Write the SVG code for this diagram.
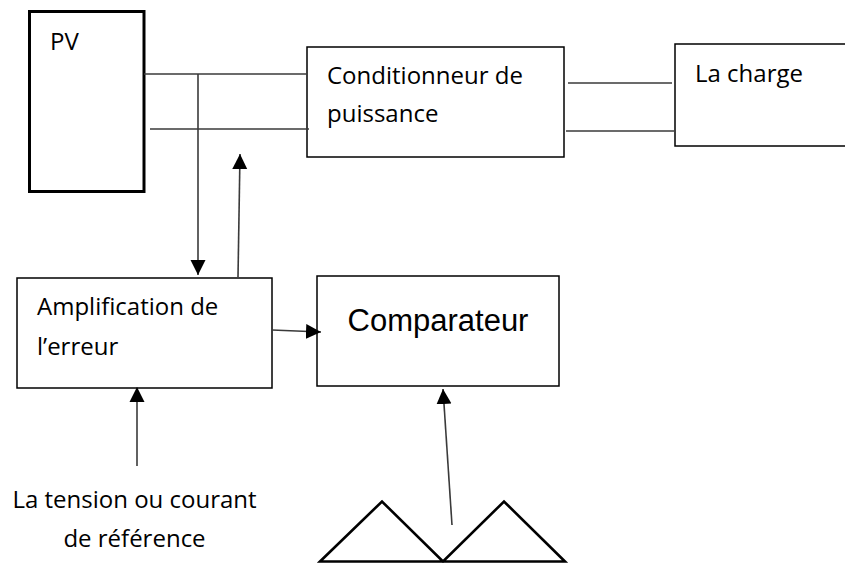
<svg xmlns="http://www.w3.org/2000/svg" width="845" height="563" viewBox="0 0 845 563">
  <style>
    .box { fill: #ffffff; stroke: #000000; stroke-width: 1.5; }
    .box-heavy { fill: #ffffff; stroke: #000000; stroke-width: 3; }
    .wire { fill: none; stroke: #3a3a3a; stroke-width: 1.6; }
    .lbl { font-family: "Open Sans", "Noto Sans", sans-serif; font-size: 24px; fill: #000000; }
    .lbl-big { font-family: "Liberation Sans", Arial, sans-serif; font-size: 31px; fill: #000000; }
    .wave { fill: none; stroke: #000000; stroke-width: 2.6; stroke-linejoin: miter; }
  </style>
  <defs>
    <marker id="arrow" markerUnits="userSpaceOnUse" markerWidth="16" markerHeight="16" viewBox="0 0 16 16" refX="15" refY="8" orient="auto">
      <path d="M0,0.5 L15,8 L0,15.5 Z" fill="#000000"/>
    </marker>
  </defs>

  <rect width="845" height="563" fill="#ffffff"/>

  <g id="pv">
    <rect class="box-heavy" x="29.5" y="11.5" width="114.5" height="180"/>
    <text class="lbl" x="50" y="50">PV</text>
  </g>

  <g id="conditionneur">
    <rect class="box" x="307" y="47" width="257" height="110"/>
    <text class="lbl" x="327" y="84">Conditionneur de</text>
    <text class="lbl" x="327" y="122">puissance</text>
  </g>

  <g id="charge">
    <rect class="box" x="675" y="44" width="175" height="102"/>
    <text class="lbl" x="695" y="82">La charge</text>
  </g>

  <g id="amplification">
    <rect class="box" x="17" y="278" width="255" height="110"/>
    <text class="lbl" x="37" y="315">Amplification de</text>
    <text class="lbl" x="37" y="355">l’erreur</text>
  </g>

  <g id="comparateur">
    <rect class="box" x="317" y="276" width="242" height="110"/>
    <text class="lbl-big" x="438" y="331" text-anchor="middle">Comparateur</text>
  </g>

  <g id="reference">
    <text class="lbl" x="134.5" y="508" text-anchor="middle">La tension ou courant</text>
    <text class="lbl" x="134.5" y="547" text-anchor="middle">de référence</text>
  </g>

  <g id="signal-triangulaire">
    <path class="wave" d="M320,561.5 L382,501.5 L443,561.5 L504,501.5 L565,561.5 Z"/>
  </g>

  <g id="connectors">
    <!-- PV to power conditioner -->
    <line class="wire" x1="144" y1="74" x2="307" y2="74"/>
    <line class="wire" x1="150" y1="129" x2="309" y2="129"/>
    <!-- power conditioner to load -->
    <line class="wire" x1="568" y1="83" x2="672" y2="83"/>
    <line class="wire" x1="566" y1="131" x2="674" y2="131"/>
    <!-- measurement down to the error amplifier -->
    <line class="wire" x1="198" y1="74" x2="198" y2="275" marker-end="url(#arrow)"/>
    <!-- control signal back up to the conditioner -->
    <line class="wire" x1="238" y1="277" x2="240" y2="154" marker-end="url(#arrow)"/>
    <!-- error amplifier to comparator -->
    <line class="wire" x1="272" y1="330" x2="321" y2="332" marker-end="url(#arrow)"/>
    <!-- reference input -->
    <line class="wire" x1="137" y1="466" x2="137" y2="387" marker-end="url(#arrow)"/>
    <!-- carrier wave into comparator -->
    <line class="wire" x1="452" y1="525" x2="443" y2="389" marker-end="url(#arrow)"/>
  </g>
</svg>
